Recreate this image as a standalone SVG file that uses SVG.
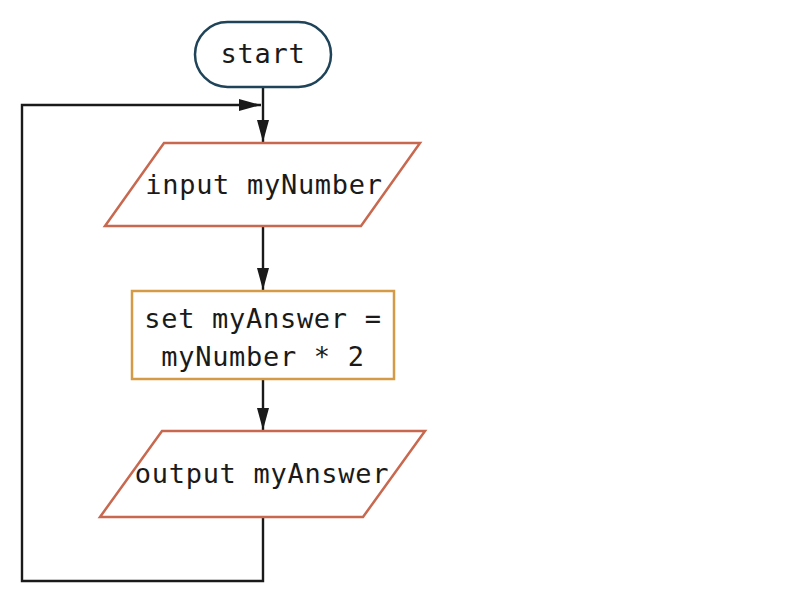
<svg xmlns="http://www.w3.org/2000/svg" width="800" height="606" viewBox="0 0 800 606">
<defs>
<style>
text{font-family:"DejaVu Sans Mono","Liberation Mono",monospace;font-size:27px;fill:#1a1a1a;text-anchor:middle;dominant-baseline:central;letter-spacing:0.7px}
.io{fill:#fff;stroke:#c8684f;stroke-width:2.5}
.edge{fill:none;stroke:#1a1a1a;stroke-width:2.4}
</style>
<marker id="ah" viewBox="0 0 22 12" refX="22" refY="6" markerWidth="22" markerHeight="12" markerUnits="userSpaceOnUse" orient="auto">
<path d="M0,0 L22,6 L0,12 z" fill="#1a1a1a"/>
</marker>
</defs>
<rect width="800" height="606" fill="#fff"/>
<g id="connectors">
<path class="edge" d="M263,87 V142" marker-end="url(#ah)"/>
<path class="edge" d="M263,226 V290" marker-end="url(#ah)"/>
<path class="edge" d="M263,379 V430" marker-end="url(#ah)"/>
<path class="edge" d="M263,517 V581 H22 V105 H261" marker-end="url(#ah)"/>
</g>
<g id="start">
<rect x="195" y="22" width="136" height="65" rx="32.5" fill="#fff" stroke="#1f4358" stroke-width="2.5"/>
<text x="263" y="53">start</text>
</g>
<g id="input">
<polygon class="io" points="164,143 420,143 361,226 105,226"/>
<text x="264" y="184">input myNumber</text>
</g>
<g id="process">
<rect x="132" y="291" width="262" height="88" fill="#fff" stroke="#d59a45" stroke-width="2.5"/>
<text x="263" y="318">set myAnswer =</text>
<text x="263" y="356">myNumber * 2</text>
</g>
<g id="output">
<polygon class="io" points="162,431 425,431 363,517 100,517"/>
<text x="262" y="473">output myAnswer</text>
</g>
</svg>
